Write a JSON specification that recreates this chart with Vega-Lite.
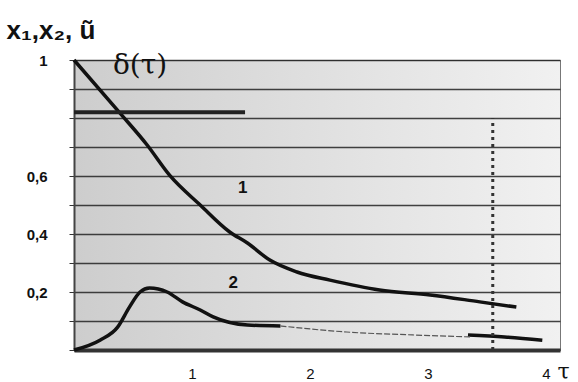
{
  "$schema": "https://vega.github.io/schema/vega-lite/v6.json",
  "width": 486,
  "height": 290,
  "autosize": "none",
  "padding": {"left": 74, "top": 60, "right": 18, "bottom": 32},
  "background": "white",
  "config": {
    "view": {"stroke": "#777", "strokeWidth": 1, "fill": {"gradient": "linear", "x1": 0, "y1": 0, "x2": 1, "y2": 0, "stops": [{"offset": 0, "color": "#cdcdcd"}, {"offset": 0.45, "color": "#dedede"}, {"offset": 1, "color": "#f1f1f1"}]}},
    "font": "Liberation Sans"
  },
  "datasets": {
    "curves": [
      {"s": "1", "tau": 0.0, "v": 1.0},
      {"s": "1", "tau": 0.39, "v": 0.817},
      {"s": "1", "tau": 0.62, "v": 0.707},
      {"s": "1", "tau": 0.81, "v": 0.603},
      {"s": "1", "tau": 1.07, "v": 0.5},
      {"s": "1", "tau": 1.32, "v": 0.407},
      {"s": "1", "tau": 1.47, "v": 0.369},
      {"s": "1", "tau": 1.66, "v": 0.31},
      {"s": "1", "tau": 1.89, "v": 0.269},
      {"s": "1", "tau": 2.17, "v": 0.241},
      {"s": "1", "tau": 2.59, "v": 0.207},
      {"s": "1", "tau": 3.02, "v": 0.19},
      {"s": "1", "tau": 3.44, "v": 0.166},
      {"s": "1", "tau": 3.75, "v": 0.148},
      {"s": "2a", "tau": 0.0, "v": 0.0},
      {"s": "2a", "tau": 0.22, "v": 0.034},
      {"s": "2a", "tau": 0.37, "v": 0.079},
      {"s": "2a", "tau": 0.47, "v": 0.148},
      {"s": "2a", "tau": 0.56, "v": 0.2},
      {"s": "2a", "tau": 0.64, "v": 0.214},
      {"s": "2a", "tau": 0.79, "v": 0.2},
      {"s": "2a", "tau": 0.92, "v": 0.166},
      {"s": "2a", "tau": 1.07, "v": 0.138},
      {"s": "2a", "tau": 1.18, "v": 0.114},
      {"s": "2a", "tau": 1.47, "v": 0.086},
      {"s": "2a", "tau": 1.75, "v": 0.083},
      {"s": "2b", "tau": 1.75, "v": 0.083},
      {"s": "2b", "tau": 2.31, "v": 0.062},
      {"s": "2b", "tau": 2.87, "v": 0.052},
      {"s": "2b", "tau": 3.36, "v": 0.045},
      {"s": "2c", "tau": 3.34, "v": 0.052},
      {"s": "2c", "tau": 3.65, "v": 0.045},
      {"s": "2c", "tau": 3.97, "v": 0.034},
      {"s": "d", "tau": 0.0, "v": 0.82},
      {"s": "d", "tau": 1.45, "v": 0.82},
      {"s": "vline", "tau": 3.55, "v": 0.0},
      {"s": "vline", "tau": 3.55, "v": 0.8}
    ],
    "labels": [
      {"t": "δ(τ)", "tau": 0.56, "v": 0.98, "k": "big"},
      {"t": "1", "tau": 1.43, "v": 0.56, "k": "small"},
      {"t": "2", "tau": 1.35, "v": 0.23, "k": "small"}
    ]
  },
  "layer": [
    {
      "data": {"name": "curves"},
      "transform": [{"filter": "datum.s === '1' || datum.s === '2a' || datum.s === '2c'"}],
      "mark": {"type": "line", "color": "#111", "strokeWidth": 3.5, "interpolate": "monotone"},
      "encoding": {
        "x": {"field": "tau", "type": "quantitative", "scale": {"domain": [0, 4.12], "nice": false},
          "axis": {"values": [1, 2, 3, 4], "format": "d", "grid": false, "ticks": false, "domainColor": "#333", "domainWidth": 4, "labelFontSize": 15, "labelPadding": 16, "labelColor": "#111", "title": "τ", "titleFont": "DejaVu Serif", "titleFontSize": 22, "titleFontWeight": "normal", "titleX": 489, "titleY": 21, "titleAlign": "center", "titleBaseline": "middle", "titleColor": "#111"}},
        "y": {"field": "v", "type": "quantitative", "scale": {"domain": [0, 1], "nice": false},
          "axis": {"values": [0, 0.1, 0.2, 0.3, 0.4, 0.5, 0.6, 0.7, 0.8, 0.9, 1.0], "tickCount": 20, "labelExpr": "datum.value == 0.2 ? '0,2' : datum.value == 0.4 ? '0,4' : datum.value == 0.6 ? '0,6' : datum.value == 1 ? '1' : ''", "grid": true, "gridColor": "#222", "gridWidth": 1.6, "gridOpacity": 0.85, "tickSize": 5, "tickColor": "#333", "domainColor": "#444", "domainWidth": 2, "labelFontSize": 15, "labelFontWeight": "bold", "labelPadding": 22, "labelColor": "#111", "title": "x₁,x₂, ũ", "titleAngle": 0, "titleFontSize": 26, "titleFontWeight": "bold", "titleAlign": "left", "titleBaseline": "middle", "titleX": -68, "titleY": -30, "titleColor": "#111"}},
        "detail": {"field": "s"}
      }
    },
    {
      "data": {"name": "curves"},
      "transform": [{"filter": "datum.s === '2b'"}],
      "mark": {"type": "line", "color": "#555", "strokeWidth": 1.2, "strokeDash": [6, 2], "interpolate": "monotone"},
      "encoding": {"x": {"field": "tau", "type": "quantitative"}, "y": {"field": "v", "type": "quantitative"}}
    },
    {
      "data": {"name": "curves"},
      "transform": [{"filter": "datum.s === 'd'"}],
      "mark": {"type": "line", "color": "#222", "strokeWidth": 4},
      "encoding": {"x": {"field": "tau", "type": "quantitative"}, "y": {"field": "v", "type": "quantitative"}}
    },
    {
      "data": {"name": "curves"},
      "transform": [{"filter": "datum.s === 'vline'"}],
      "mark": {"type": "line", "color": "#333", "strokeWidth": 3, "strokeDash": [3, 4]},
      "encoding": {"x": {"field": "tau", "type": "quantitative"}, "y": {"field": "v", "type": "quantitative"}}
    },
    {
      "data": {"name": "labels"},
      "transform": [{"filter": "datum.k === 'big'"}],
      "mark": {"type": "text", "font": "DejaVu Serif", "fontSize": 28, "color": "#111", "align": "center", "baseline": "middle"},
      "encoding": {"x": {"field": "tau", "type": "quantitative"}, "y": {"field": "v", "type": "quantitative"}, "text": {"field": "t"}}
    },
    {
      "data": {"name": "labels"},
      "transform": [{"filter": "datum.k === 'small'"}],
      "mark": {"type": "text", "fontSize": 17, "fontWeight": "bold", "color": "#111", "align": "center", "baseline": "middle"},
      "encoding": {"x": {"field": "tau", "type": "quantitative"}, "y": {"field": "v", "type": "quantitative"}, "text": {"field": "t"}}
    }
  ]
}
